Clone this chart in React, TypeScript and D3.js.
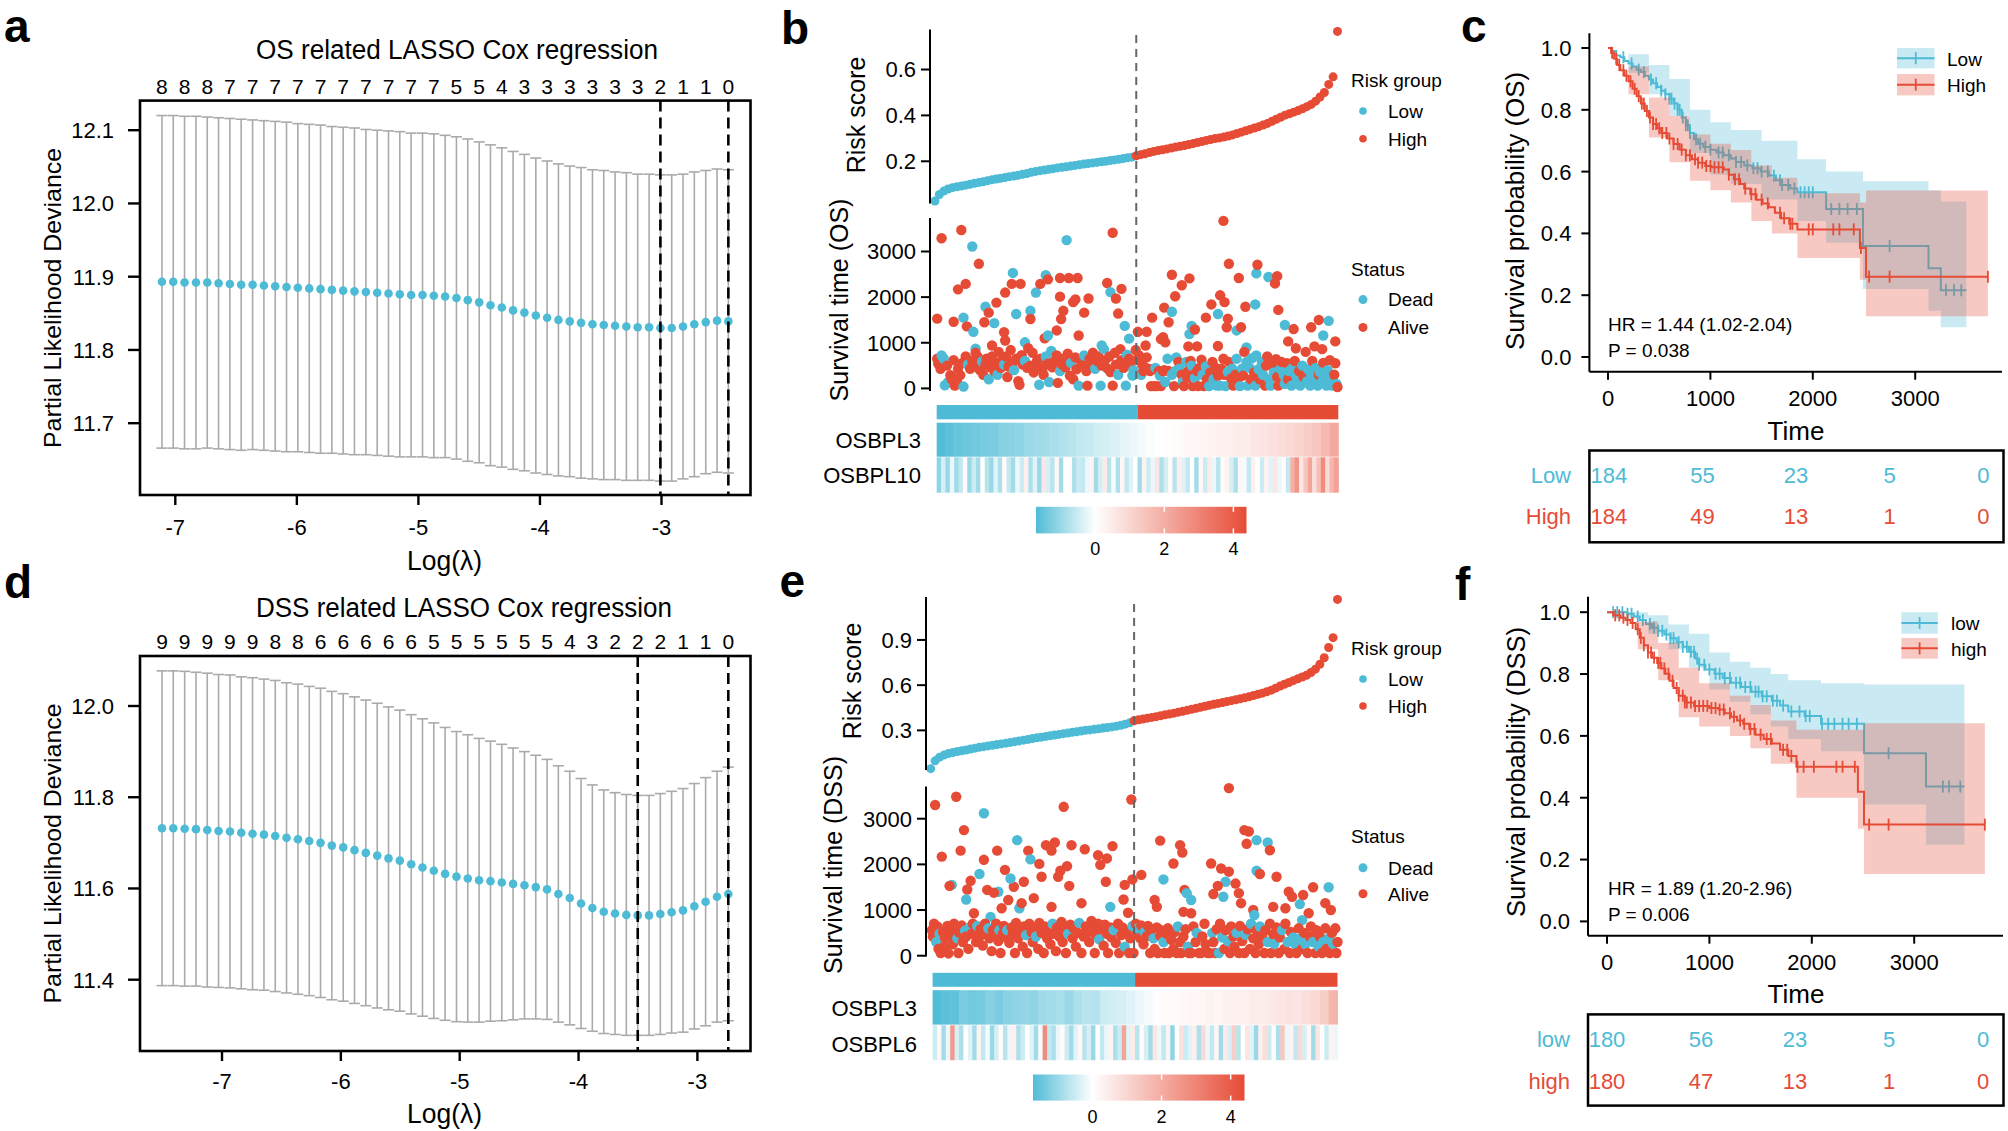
import React from 'react';
import * as d3 from 'd3';

const BLUE = '#4DBBD5';
const RED = '#E64B35';
const GREY = '#AAAAAA';
const SANS = "'Liberation Sans', Arial, Helvetica, sans-serif";
const NARROW = "'Liberation Sans Narrow', 'Arial Narrow', 'Liberation Sans', Arial, sans-serif";

// ---------- a: OS LASSO cross-validation ----------
const lambdaOS = [-7.110,-7.017,-6.924,-6.830,-6.737,-6.644,-6.551,-6.458,-6.364,-6.271,-6.178,-6.085,-5.992,-5.898,-5.805,-5.712,-5.619,-5.526,-5.432,-5.339,-5.246,-5.153,-5.060,-4.966,-4.873,-4.780,-4.687,-4.594,-4.500,-4.407,-4.314,-4.221,-4.128,-4.034,-3.941,-3.848,-3.755,-3.662,-3.568,-3.475,-3.382,-3.289,-3.196,-3.102,-3.009,-2.916,-2.823,-2.730,-2.636,-2.543,-2.450];
const cvmOS = [11.893,11.893,11.892,11.892,11.892,11.891,11.890,11.889,11.889,11.888,
  11.887,11.886,11.885,11.884,11.883,11.882,11.881,11.880,11.879,11.878,
  11.877,11.876,11.875,11.875,11.874,11.873,11.871,11.868,11.865,11.861,
  11.858,11.854,11.851,11.847,11.844,11.841,11.839,11.837,11.835,11.834,
  11.833,11.832,11.831,11.831,11.830,11.830,11.832,11.835,11.838,11.840,11.839];
const cvsdOS = [0.227,0.227,0.227,0.227,0.226,0.226,0.226,0.226,0.225,0.225,
  0.225,0.225,0.224,0.224,0.224,0.223,0.223,0.223,0.222,0.222,
  0.222,0.222,0.221,0.221,0.221,0.220,0.220,0.220,0.219,0.219,
  0.218,0.217,0.216,0.215,0.214,0.213,0.212,0.212,0.211,0.211,
  0.210,0.210,0.209,0.209,0.209,0.209,0.208,0.208,0.207,0.207,0.207];
const nzeroOS = [8,8,8,7,7,7,7,7,7,7,7,7,7,5,5,4,3,3,3,3,3,3,2,1,1,0];

// ---------- d: DSS LASSO cross-validation ----------
const lambdaDSS = [-7.505,-7.410,-7.314,-7.219,-7.124,-7.029,-6.933,-6.838,-6.743,-6.647,-6.552,-6.457,-6.361,-6.266,-6.171,-6.076,-5.980,-5.885,-5.790,-5.694,-5.599,-5.504,-5.408,-5.313,-5.218,-5.123,-5.027,-4.932,-4.837,-4.741,-4.646,-4.551,-4.455,-4.360,-4.265,-4.170,-4.074,-3.979,-3.884,-3.788,-3.693,-3.598,-3.502,-3.407,-3.312,-3.217,-3.121,-3.026,-2.931,-2.835,-2.740];
const cvmDSS = [11.732,11.732,11.731,11.730,11.728,11.726,11.725,11.722,11.720,11.718,
  11.715,11.711,11.708,11.704,11.700,11.694,11.690,11.684,11.678,11.672,
  11.666,11.661,11.653,11.646,11.639,11.632,11.626,11.622,11.618,11.616,
  11.613,11.610,11.607,11.603,11.598,11.588,11.579,11.567,11.557,11.549,
  11.545,11.542,11.541,11.541,11.544,11.548,11.552,11.561,11.571,11.582,11.588];
const cvsdDSS = [0.345,0.345,0.345,0.344,0.344,0.343,0.343,0.342,0.342,0.341,
  0.341,0.340,0.340,0.339,0.339,0.338,0.337,0.336,0.335,0.334,
  0.332,0.330,0.328,0.326,0.324,0.321,0.318,0.315,0.311,0.307,
  0.303,0.298,0.293,0.289,0.285,0.281,0.278,0.274,0.270,0.267,
  0.265,0.264,0.263,0.263,0.264,0.265,0.267,0.269,0.272,0.275,0.278];
const nzeroDSS = [9,9,9,9,9,8,8,6,6,6,6,6,5,5,5,5,5,5,4,3,2,2,2,1,1,0];

// ---------- b: OS risk score (sorted), survival, heatmap ----------
const riskOS = [.027,.055,.070,.079,.085,.089,.092,.096,.100,.104,
  .107,.111,.115,.119,.123,.126,.129,.133,.136,.139,
  .143,.147,.152,.156,.159,.162,.165,.168,.171,.174,
  .176,.179,.182,.185,.188,.190,.193,.195,.198,.200,
  .203,.206,.209,.212,.215,.218,.224,.229,.233,.238,
  .243,.247,.250,.254,.258,.262,.265,.269,.273,.277,
  .282,.286,.291,.295,.299,.302,.306,.310,.315,.321,
  .327,.333,.339,.345,.351,.358,.365,.374,.383,.392,
  .401,.407,.414,.421,.429,.438,.448,.462,.480,.500,
  .535,.568,.766];
// [patient rank, survival days, dead (1) / alive (0)]
const survOS = [
  [7,3290,0],[25,3470,0],[35,3110,1],[41,2730,0],[3,1530,0],[18,1460,0],[22,2170,0],[29,2290,0],[27,1550,1],[30,1360,0],[36,1240,1],[38,870,1],[47,1790,1],[50,1660,0],[46,1450,0],[55,1430,1],[57,1880,0],[65,2100,0],[72,2530,1],[71,2290,0],[79,2290,0],[75,1630,1],[88,1700,1],[88,1520,0],[93,2100,1],[97,2290,0],[102,2480,1],[104,2390,0],[115,2420,0],[123,2420,0],[131,2420,0],[121,3250,1],[115,2010,0],[127,1890,0],[129,1950,0],[118,1700,0],[116,1520,0],[137,1660,0],[141,1970,0],[112,1270,0],[101,1100,0],[104,1160,1],[83,1010,1],[64,1230,0],[65,1050,0],[53,940,0],[158,2310,0],[161,2110,1],[171,2180,0],[166,1970,0],[168,1640,0],[174,1370,1],[178,1090,1],[163,3410,0],[132,1160,0],[153,940,1],
  [186,1240,0],[194,1240,0],[199,1550,0],[193,940,0],[207,1080,0],[209,1120,0],[211,1010,0],[210,1770,0],[217,1680,1],[214,1450,0],[217,2490,0],[220,2020,0],[226,2260,0],[233,2410,0],[235,1370,1],[233,1190,1],[238,1290,0],[232,920,0],[240,920,0],[248,1550,0],[253,1840,0],[259,930,0],[261,2040,0],[264,3670,0],[265,1890,0],[269,2730,0],[259,1630,1],[267,1340,0],[268,1530,0],[278,2420,0],[284,1790,0],[276,1270,1],[280,1340,0],[285,900,1],[294,2520,1],[295,2710,0],[293,1840,1],[305,2440,1],[313,2460,0],[311,2300,0],[314,1720,0],[320,1390,1],[328,1300,0],[323,1030,0],[330,880,0],[344,1340,0],[351,1500,0],[360,1480,1],[355,1160,1],[347,920,0],[366,1030,0],[354,860,0],
  [3,650,0],[4,540,0],[6,430,0],[7,720,1],[9,650,1],[10,70,1],[12,500,0],[13,140,1],[15,290,0],[16,210,0],[18,620,0],[19,60,0],[21,150,0],[22,430,0],[24,290,0],[27,40,1],[26,560,0],[29,700,0],[31,520,1],[33,430,0],[35,600,0],[37,480,0],[38,780,0],[40,690,0],[42,400,0],[44,590,1],[45,300,0],[47,520,0],[48,650,0],[50,200,1],[51,470,0],[53,700,0],[55,380,0],[56,560,0],[58,300,1],[59,800,0],[61,450,0],[62,620,0],[64,520,1],[66,700,0],[67,250,0],[68,480,0],[70,840,0],[72,560,0],[73,400,1],[75,650,0],[77,160,0],[78,80,0],[80,730,0],[81,520,0],[83,600,1],[85,450,0],[86,880,0],[88,500,0],[90,780,0],[91,350,0],[93,520,0],[94,600,0],[96,80,1],[97,650,0],[99,430,0],[100,300,0],[102,700,1],[104,540,0],[105,140,1],[107,820,1],[108,460,0],[110,600,0],[112,720,0],[113,120,0],[115,380,1],[117,520,0],[118,650,0],[120,460,0],[122,760,0],[124,280,0],[125,560,1],[127,200,0],[129,680,0],[130,420,0],[132,60,1],[134,600,0],[135,520,0],[137,720,1],[139,380,0],[140,60,0],[142,650,0],[144,520,0],[145,780,0],[147,430,1],[149,600,0],[150,700,0],[152,60,1],[153,500,0],[155,860,1],[156,620,0],[158,440,0],[160,700,0],[161,360,0],[163,60,0],[165,780,0],[166,520,0],[168,300,1],[170,860,0],[171,620,0],[173,450,0],[175,60,1],[176,740,1],[178,650,0],[179,520,0],[181,280,1],[182,400,1],[184,840,0],
  [186,640,0],[187,720,0],[189,300,1],[190,520,0],[191,380,0],[193,450,0],[194,680,0],[195,430,0],[197,380,0],[198,50,0],[199,420,0],[201,50,0],[202,450,1],[203,50,0],[205,380,0],[206,280,1],[207,50,0],[209,380,0],[210,400,0],[211,140,1],[213,650,1],[214,380,0],[216,350,0],[217,300,1],[219,50,0],[220,380,1],[221,680,1],[223,580,0],[224,430,1],[226,300,0],[227,140,1],[228,50,0],[230,580,1],[231,230,0],[232,380,0],[234,600,0],[235,500,1],[236,50,0],[238,230,1],[240,380,0],[241,50,0],[242,450,0],[244,630,0],[245,300,1],[246,50,0],[248,480,1],[249,200,0],[251,50,1],[252,350,0],[254,580,0],[255,200,1],[257,450,0],[258,60,1],[259,280,0],[261,60,1],[262,430,0],[264,650,0],[265,300,0],[266,50,1],[268,360,1],[269,580,0],[271,220,0],[272,430,1],[273,60,0],[275,300,0],[276,650,1],[278,230,0],[279,50,1],[281,430,1],[282,280,0],[283,800,0],[285,580,1],[286,60,1],[288,450,1],[289,200,0],[290,660,1],[292,350,0],[293,60,1],[294,720,1],[296,420,1],[297,200,0],[299,580,1],[300,300,1],[302,60,0],[303,500,0],[304,700,0],[306,200,1],[307,60,1],[309,520,0],[310,350,1],[312,640,0],[313,250,0],[314,60,0],[316,430,1],[317,580,0],[319,300,1],[320,100,1],[322,550,0],[323,200,0],[324,380,1],[326,60,1],[327,450,1],[329,600,0],[330,280,1],[331,150,1],[333,380,0],[334,60,1],[336,500,1],[337,250,0],[339,800,0],[340,150,1],[341,420,1],[343,60,1],[344,300,1],[345,600,0],[347,200,1],[348,450,1],[350,60,1],[351,300,0],[352,350,1],[354,150,1],[355,560,0],[356,250,1],[358,60,1],[359,400,1],[361,620,0],[362,150,1],[363,60,1],[365,300,0],[366,550,0],[367,100,1],[368,30,0]
];
const osbpl3OS = [-1.7,-1.6,-1.5,-1.45,-1.4,-1.35,-1.3,-1.2,-1.15,-1.1,-1.0,-0.95,-0.9,-0.85,-0.75,-0.7,-0.6,-0.55,-0.45,-0.4,-0.35,-0.25,-0.2,-0.1,-0.05,0.0,0.05,0.1,0.15,0.2,0.25,0.3,0.35,0.4,0.45,0.5,0.6,0.65,0.75,0.85,0.95,1.05,1.2,1.4,1.7,2.1];
const osbpl10OS = [-1.1,-0.4,-1.0,-0.2,-0.9,-0.6,0.1,-1.0,-0.5,-0.9,0.0,-0.7,-1.0,-0.3,-0.8,0.1,-0.6,-0.9,-0.2,-0.5,0.4,-0.8,-0.3,-1.0,0.6,-0.4,-0.7,0.2,-0.9,0.0,0.1,-0.8,-0.5,-0.6,-0.2,0.3,-0.9,-0.4,0.5,-0.7,-0.1,-0.8,0.2,-0.6,-0.3,0.0,-0.9,0.3,-0.5,-0.2,0.6,-0.8,-0.4,0.1,-0.7,0.4,-0.3,-0.6,0.0,-0.9,0.2,-0.5,0.5,-0.2,-0.7,0.1,0.3,-0.4,-0.8,0.2,-0.1,-0.6,0.4,0.0,-0.5,0.3,-0.3,0.6,-0.2,0.1,-0.6,1.9,2.6,0.6,1.4,2.2,0.8,1.6,2.8,0.9,1.8,2.3];

// ---------- e: DSS risk score (sorted), survival, heatmap ----------
const riskDSS = [.046,.098,.122,.136,.146,.153,.159,.165,.170,.176,
  .182,.188,.192,.197,.201,.206,.210,.215,.220,.225,
  .230,.235,.240,.246,.251,.255,.260,.264,.269,.273,
  .278,.282,.287,.291,.296,.300,.303,.307,.311,.315,
  .319,.323,.328,.334,.341,.350,.364,.370,.375,.381,
  .386,.391,.397,.403,.408,.414,.421,.427,.433,.440,
  .446,.453,.460,.467,.473,.479,.485,.491,.497,.503,
  .510,.516,.523,.531,.539,.547,.556,.567,.580,.594,
  .606,.618,.630,.642,.654,.666,.684,.706,.738,.782,
  .850,.915,1.169];
const survDSS = [
  [5,3300,0],[24,3480,0],[49,3120,1],[31,2750,0],[11,2170,0],[28,2300,0],[49,2100,0],[61,2300,0],[79,2530,1],[89,2300,0],[91,2110,1],[99,2010,0],[105,2420,0],[110,2300,0],[113,2480,0],[121,3260,0],[128,2420,0],[140,2330,0],[152,2200,0],[154,1990,0],[160,2130,0],[165,2400,0],[182,3420,0],[118,1860,0],[124,1960,0],[116,1730,0],[101,1730,0],[85,1620,0],[76,1510,0],[73,1690,1],[68,1880,0],[45,1790,1],[37,1640,0],[34,1450,0],[20,1550,1],[18,1530,0],[33,1230,1],[40,930,0],[52,1440,0],[55,850,1],[62,1400,1],[58,1380,0],[65,1040,0],[71,1220,0],[81,1040,1],[83,1150,0],[94,1260,0],[110,1070,0],[126,1530,0],[137,1150,0],[159,1620,0],[163,1070,1],[175,1230,0],[176,1550,0],[179,940,0],[183,1670,0],[191,1770,0],
  [208,2520,0],[211,1670,1],[203,1220,0],[205,1070,0],[220,2020,0],[226,2420,0],[228,2260,0],[230,1440,0],[232,1370,1],[236,1220,1],[229,960,0],[236,930,0],[254,2020,0],[263,1910,0],[270,1840,0],[267,1620,1],[265,1290,1],[260,1530,0],[256,1350,0],[276,1580,0],[279,1370,0],[281,1150,0],[270,3670,0],[284,2750,0],[288,2720,0],[295,2530,1],[286,2450,0],[305,2480,1],[307,2310,0],[295,1860,1],[298,1790,0],[313,1730,0],[292,1000,0],[293,890,1],[310,1070,0],[324,1400,0],[327,1290,0],[334,1130,1],[337,1330,0],[321,1040,0],[346,1500,0],[360,1500,1],[357,1150,0],[362,1000,0],[342,930,0],[336,780,1],
  [2,560,0],[3,420,0],[4,700,0],[6,300,1],[7,640,0],[8,150,0],[9,480,1],[10,60,0],[12,520,0],[13,200,0],[14,380,0],[15,100,0],[16,650,0],[17,50,0],[19,450,0],[21,250,0],[22,700,0],[23,560,0],[25,380,1],[26,60,0],[27,500,0],[29,660,0],[30,300,0],[32,550,1],[33,420,0],[35,150,0],[36,620,1],[38,480,0],[39,700,0],[41,530,0],[42,300,0],[43,650,1],[45,410,0],[46,580,0],[48,220,0],[50,700,0],[51,480,0],[53,600,1],[54,380,0],[56,100,0],[57,560,0],[59,440,0],[60,700,0],[62,320,0],[63,560,1],[64,60,0],[66,480,0],[67,650,0],[69,400,0],[70,560,1],[72,280,0],[74,620,0],[75,470,0],[77,60,0],[78,720,0],[80,380,0],[82,540,0],[84,200,0],[85,640,0],[87,450,1],[88,60,0],[90,700,0],[92,520,0],[93,300,0],[95,600,0],[96,420,1],[98,150,0],[99,720,0],[101,500,0],[103,60,0],[104,640,0],[106,380,0],[107,560,0],[109,250,0],[111,700,1],[112,480,0],[114,100,0],[115,620,0],[117,420,0],[119,740,0],[120,300,0],[122,560,0],[123,60,0],[125,480,1],[127,680,0],[129,380,0],[130,600,0],[132,200,0],[134,500,0],[135,720,1],[137,60,0],[139,420,0],[141,640,0],[142,500,0],[144,300,0],[146,760,0],[147,560,0],[149,60,0],[150,460,0],[152,700,0],[153,360,1],[155,580,0],[157,220,0],[158,680,0],[160,480,0],[161,60,0],[163,620,0],[164,400,0],[166,560,1],[168,280,0],[170,700,0],[171,60,0],[173,450,0],[174,620,0],[176,200,1],[178,540,0],[180,60,0],[181,380,0],[183,650,1],[184,60,0],
  [186,700,0],[187,480,0],[188,600,1],[190,380,0],[191,660,0],[193,250,0],[194,520,1],[196,430,0],[197,650,0],[199,60,0],[200,560,0],[202,380,1],[203,150,0],[205,620,0],[206,60,0],[208,440,0],[209,560,0],[211,300,1],[212,60,0],[214,480,0],[215,600,0],[216,60,0],[218,350,0],[220,150,0],[221,520,0],[223,60,0],[224,640,1],[226,300,0],[227,60,0],[229,420,0],[231,580,0],[233,200,1],[234,60,0],[236,60,0],[238,640,0],[240,300,0],[241,500,1],[243,60,0],[245,60,0],[246,420,0],[248,700,0],[249,250,0],[251,60,0],[253,60,0],[255,500,1],[256,300,0],[258,60,0],[259,580,0],[261,60,1],[262,700,0],[264,400,1],[266,150,0],[267,560,0],[269,320,1],[271,60,0],[272,640,0],[274,420,0],[275,200,0],[277,500,1],[279,60,0],[280,650,0],[282,320,0],[284,60,0],[285,460,1],[287,580,0],[289,150,0],[290,700,1],[292,380,0],[294,60,0],[295,560,0],[297,250,0],[298,640,1],[300,430,0],[302,60,0],[303,560,0],[305,300,1],[307,700,0],[308,60,0],[310,470,0],[311,260,1],[313,620,0],[315,60,0],[316,400,0],[318,560,1],[320,150,0],[321,700,0],[323,300,1],[325,60,0],[326,520,0],[328,400,1],[330,250,1],[331,60,0],[333,600,0],[334,380,1],[336,150,0],[338,500,0],[339,250,1],[341,60,0],[343,420,0],[344,640,0],[346,300,1],[348,60,0],[349,560,0],[351,200,1],[352,420,0],[354,60,0],[355,300,1],[357,600,0],[358,150,0],[360,380,1],[361,60,0],[363,500,0],[364,260,1],[366,600,0],[367,60,0],[368,300,0]
];
const osbpl3DSS = [-1.7,-1.6,-1.55,-1.3,-1.4,-1.35,-1.2,-1.3,-1.15,-1.1,-1.05,-1.1,-0.95,-0.9,-0.85,-1.0,-0.8,-0.7,-0.75,-0.5,-0.45,-0.4,-0.3,-0.2,-0.1,0.05,0.1,0.1,0.15,0.2,0.2,0.3,0.25,0.35,0.4,0.4,0.5,0.45,0.55,0.6,0.7,0.65,0.8,0.95,1.2,1.8];
const osbpl6DSS = [-0.5,0.2,-0.9,-0.2,2.5,-0.4,-0.8,0.0,-0.3,-0.9,0.3,-0.6,-0.1,-1.0,-0.4,0.1,-0.7,-0.2,0.4,-0.8,-0.5,0.0,-0.3,-0.9,-0.1,2.8,-0.6,-0.8,-0.2,0.1,-0.5,-0.9,-0.3,0.2,-0.7,-0.4,-1.0,0.0,-0.6,-0.2,0.3,-0.8,-0.5,2.2,-0.3,0.5,-0.7,0.1,-0.4,-0.9,0.6,-0.2,-0.6,0.3,-1.1,0.0,0.7,-0.5,-0.3,0.4,-0.8,0.9,-0.2,-0.6,0.2,-0.9,0.5,-0.4,1.2,-0.7,0.0,0.6,-0.3,-1.0,0.4,0.8,-0.5,0.1,-0.8,1.4,-0.2,0.3,-0.6,0.9,-0.4,0.2,-0.9,0.6,0.0,-0.5,0.3,-0.2];

// ---------- c: OS Kaplan-Meier ----------
const kmOSLow = [[0,1],[40,.99],[80,.976],[120,.97],[160,.958],[200,.95],[240,.94],[280,.93],[320,.922],[360,.91],[400,.898],[440,.886],[480,.874],[520,.862],[560,.85],[600,.836],[640,.82],[680,.8],[720,.775],[760,.75],[800,.725],[840,.705],[880,.69],[930,.68],[1000,.671],[1060,.662],[1130,.653],[1200,.642],[1250,.631],[1330,.62],[1410,.611],[1490,.6],[1570,.587],[1640,.572],[1700,.557],[1780,.545],[1850,.533],[2130,.479],[2490,.359],[3130,.287],[3250,.216],[3500,.216]];
const ciOSLow = [[0,1,1],[200,.92,.98],[400,.85,.945],[600,.78,.9],[800,.66,.8],[1000,.59,.76],[1200,.56,.735],[1500,.51,.7],[1850,.44,.64],[2130,.37,.6],[2490,.22,.569],[3130,.15,.54],[3250,.096,.503],[3500,.096,.503]];
const kmOSHigh = [[0,1],[30,.985],[60,.965],[90,.945],[120,.928],[160,.91],[200,.892],[240,.868],[280,.844],[320,.82],[360,.796],[400,.775],[440,.754],[480,.74],[520,.725],[580,.707],[640,.689],[700,.671],[760,.653],[820,.64],[880,.629],[950,.618],[1010,.614],[1130,.607],[1180,.59],[1230,.575],[1290,.56],[1330,.545],[1390,.527],[1450,.509],[1510,.497],[1570,.485],[1630,.467],[1690,.449],[1770,.431],[1850,.413],[2460,.353],[2520,.26],[3710,.26]];
const ciOSHigh = [[0,1,1],[200,.85,.94],[400,.71,.84],[600,.63,.78],[800,.57,.72],[1000,.54,.69],[1200,.5,.67],[1400,.44,.62],[1600,.4,.58],[1850,.32,.53],[2460,.25,.5],[2520,.132,.539],[3710,.132,.539]];
const censorOSLow = [150,230,300,350,420,470,520,560,600,620,650,680,700,730,760,780,800,860,900,950,1000,1080,1120,1180,1250,1300,1360,1420,1460,1500,1560,1620,1680,1700,1760,1820,1880,1920,1960,2000,2180,2260,2340,2430,2750,3300,3380,3450];
const censorOSHigh = [40,80,110,150,180,220,260,300,330,350,380,410,440,470,500,530,570,600,640,680,720,760,800,850,880,920,960,1000,1040,1080,1120,1180,1240,1280,1340,1400,1440,1500,1560,1680,1720,1780,1800,1960,2000,2200,2260,2400,2470,2550,2750,3710];
const riskTableOSLow = [184,55,23,5,0];
const riskTableOSHigh = [184,49,13,1,0];

// ---------- f: DSS Kaplan-Meier ----------
const kmDSSLow = [[0,1],[200,.995],[260,.986],[320,.975],[380,.962],[440,.95],[500,.94],[560,.928],[620,.916],[680,.903],[740,.888],[800,.872],[860,.85],[900,.83],[960,.815],[1050,.801],[1130,.787],[1210,.772],[1310,.758],[1410,.743],[1510,.728],[1610,.714],[1690,.698],[1770,.679],[1930,.664],[2090,.639],[2510,.544],[3115,.436],[3490,.436]];
const ciDSSLow = [[0,1,1],[200,.98,1],[400,.93,.99],[600,.88,.96],[800,.82,.93],[1000,.75,.87],[1200,.71,.84],[1400,.67,.82],[1600,.63,.8],[1770,.59,.78],[2090,.55,.77],[2510,.378,.766],[3115,.248,.766],[3490,.248,.766]];
const kmDSSHigh = [[0,1],[60,.99],[130,.982],[180,.975],[230,.965],[280,.945],[320,.917],[360,.893],[400,.87],[440,.853],[490,.836],[530,.818],[570,.801],[610,.778],[650,.755],[700,.73],[760,.708],[850,.697],[1000,.69],[1090,.685],[1150,.673],[1210,.662],[1270,.65],[1330,.639],[1390,.622],[1450,.604],[1530,.59],[1610,.575],[1690,.555],[1770,.535],[1850,.5],[2450,.419],[2510,.313],[3690,.313]];
const ciDSSHigh = [[0,1,1],[300,.88,.97],[500,.78,.9],[700,.66,.82],[900,.63,.77],[1200,.6,.73],[1400,.56,.7],[1600,.51,.65],[1850,.4,.62],[2450,.3,.62],[2510,.153,.641],[3690,.153,.641]];
const censorDSSLow = [60,100,150,200,240,300,350,420,460,500,540,580,620,650,700,740,780,820,850,880,900,950,1000,1060,1100,1150,1200,1260,1300,1350,1400,1450,1480,1520,1560,1620,1660,1720,1800,1880,1940,1980,2100,2160,2220,2300,2360,2440,2750,3280,3340,3450];
const censorDSSHigh = [80,120,160,200,250,300,330,360,400,430,460,500,520,560,600,640,680,700,740,760,780,820,860,900,940,980,1020,1060,1100,1140,1200,1240,1300,1340,1400,1440,1500,1560,1600,1720,1760,1800,1860,1920,2020,2240,2300,2420,2560,2750,3690];
const riskTableDSSLow = [180,56,23,5,0];
const riskTableDSSHigh = [180,47,13,1,0];

const tableTimes = [0, 1000, 2000, 3000, 4000];
const kmXTicks = [0, 1000, 2000, 3000];
const kmYTicks = [0, 0.2, 0.4, 0.6, 0.8, 1.0];
const survTicks = [0, 1000, 2000, 3000];
const cbTicks = [0, 2, 4];

const heatColor = d3.scaleLinear<string>().domain([-1.75, 0, 4.4]).range([BLUE, '#ffffff', RED]).clamp(true);

function Letter({ x, y, t }: any) {
  return <text x={x} y={y} fontSize={46} fontWeight="bold" fontFamily={SANS}>{t}</text>;
}

function LassoPanel({ c, lambda, cvm, cvsd, nzero }: any) {
  const x = d3.scaleLinear().domain([-7, -3]).range(c.xRange);
  const y = d3.scaleLinear().domain(c.yDom).range(c.yRange);
  const [bx0, by0, bx1, by1] = c.box;
  const fmt = d3.format('.1f');
  return (
    <g>
      <Letter x={4} y={c.letterY} t={c.letter} />
      <text x={c.titleX} y={c.titleY} fontSize={27} textAnchor="middle" fontFamily={NARROW}
        textLength={c.titleLen} lengthAdjust="spacingAndGlyphs">{c.title}</text>
      {nzero.map((n: number, k: number) => (
        <text key={k} x={x(lambda[k * 2])} y={c.nzeroY} fontSize={21} textAnchor="middle" fontFamily={NARROW}>{n}</text>
      ))}
      {lambda.map((l: number, i: number) => {
        const xi = x(l), hi = y(cvm[i] + cvsd[i]), lo = y(cvm[i] - cvsd[i]);
        return (
          <g key={i} stroke={GREY} strokeWidth={1.6}>
            <line x1={xi} x2={xi} y1={hi} y2={lo} />
            <line x1={xi - 5.5} x2={xi + 5.5} y1={hi} y2={hi} />
            <line x1={xi - 5.5} x2={xi + 5.5} y1={lo} y2={lo} />
          </g>
        );
      })}
      {lambda.map((l: number, i: number) => <circle key={i} cx={x(l)} cy={y(cvm[i])} r={4.3} fill={BLUE} />)}
      {c.dash.map((i: number) => (
        <line key={i} x1={x(lambda[i])} x2={x(lambda[i])} y1={by0} y2={by1} stroke="#000" strokeWidth={2.6} strokeDasharray="11,6" />
      ))}
      <rect x={bx0} y={by0} width={bx1 - bx0} height={by1 - by0} fill="none" stroke="#000" strokeWidth={2.6} />
      {[-7, -6, -5, -4, -3].map(v => (
        <g key={v}>
          <line x1={x(v)} x2={x(v)} y1={by1} y2={by1 + 10} stroke="#000" strokeWidth={2.4} />
          <text x={x(v)} y={c.xLabY} fontSize={22} textAnchor="middle" fontFamily={NARROW}>{v}</text>
        </g>
      ))}
      {c.yTicks.map((v: number) => (
        <g key={v}>
          <line x1={bx0 - 12} x2={bx0} y1={y(v)} y2={y(v)} stroke="#000" strokeWidth={2.4} />
          <text x={bx0 - 26} y={y(v)} dy="0.36em" fontSize={22} textAnchor="end" fontFamily={NARROW}>{fmt(v)}</text>
        </g>
      ))}
      <text x={c.xTitleX} y={c.xTitleY} fontSize={27} textAnchor="middle" fontFamily={NARROW}
        textLength={75} lengthAdjust="spacingAndGlyphs">Log(λ)</text>
      <text transform={`translate(52,${c.yTitleY}) rotate(-90)`} dy="0.36em" fontSize={24} textAnchor="middle" fontFamily={SANS}
        textLength={300} lengthAdjust="spacingAndGlyphs">Partial Likelihood Deviance</text>
    </g>
  );
}

function RiskPanel({ c, risk, surv, row1, row2, names }: any) {
  const xr = d3.scaleLinear().domain([1, 368]).range(c.xr);
  const rankOf = d3.scaleLinear().domain([0, risk.length - 1]).range([1, 368]);
  const yR = d3.scaleLinear().domain(c.riskDom).range(c.riskRange);
  const yS = d3.scaleLinear().domain(c.survDom).range(c.survRange);
  const h = d3.scaleLinear().domain([0, 368]).range([c.heat.x0, c.heat.x1]);
  const cb = d3.scaleLinear().domain(c.cb.dom).range([c.cb.x0, c.cb.x1]);
  const fmt = d3.format('.1f');
  const gid = `cb-${c.letter}`;
  const rows = [row1, row2];
  const gradStops = [c.cb.dom[0], 0, 1, 2, 3, c.cb.dom[1]];
  return (
    <g fontFamily={SANS}>
      <Letter x={c.letterX} y={c.letterY} t={c.letter} />
      {/* risk score */}
      {risk.map((v: number, i: number) => {
        const r = rankOf(i);
        return <circle key={i} cx={xr(r)} cy={yR(v)} r={4.5} fill={r <= 184 ? BLUE : RED} />;
      })}
      <line x1={c.axisX} x2={c.axisX} y1={c.riskRange[0]} y2={c.riskRange[1]} stroke="#000" strokeWidth={2} />
      {c.riskTicks.map((v: number) => (
        <g key={v}>
          <line x1={c.axisX - 9} x2={c.axisX} y1={yR(v)} y2={yR(v)} stroke="#000" strokeWidth={2} />
          <text x={c.axisX - 14} y={yR(v)} dy="0.36em" fontSize={22} textAnchor="end">{fmt(v)}</text>
        </g>
      ))}
      <text transform={`translate(${c.riskLabel[0]},${c.riskLabel[1]}) rotate(-90)`} dy="0.36em" fontSize={25} textAnchor="middle">Risk score</text>
      {/* survival */}
      {surv.map((p: number[], i: number) => (
        <circle key={i} cx={xr(p[0])} cy={yS(p[1])} r={5.2} fill={p[2] ? BLUE : RED} />
      ))}
      <line x1={c.axisX} x2={c.axisX} y1={c.survRange[0]} y2={c.survRange[1]} stroke="#000" strokeWidth={2} />
      {survTicks.map(v => (
        <g key={v}>
          <line x1={c.axisX - 9} x2={c.axisX} y1={yS(v)} y2={yS(v)} stroke="#000" strokeWidth={2} />
          <text x={c.axisX - 14} y={yS(v)} dy="0.36em" fontSize={22} textAnchor="end">{v}</text>
        </g>
      ))}
      <text transform={`translate(${c.survLabel[0]},${c.survLabel[1]}) rotate(-90)`} dy="0.36em" fontSize={25} textAnchor="middle">{c.survTitle}</text>
      <line x1={xr(184.5)} x2={xr(184.5)} y1={c.dashY[0]} y2={c.dashY[1]} stroke="#666" strokeWidth={2} strokeDasharray="8,6" />
      {/* legends */}
      <text x={c.legX} y={c.leg.riskTitle} fontSize={19}>Risk group</text>
      <circle cx={c.legX + 12} cy={c.leg.low} r={3.8} fill={BLUE} />
      <text x={c.legX + 37} y={c.leg.low} dy="0.36em" fontSize={19}>Low</text>
      <circle cx={c.legX + 12} cy={c.leg.high} r={3.8} fill={RED} />
      <text x={c.legX + 37} y={c.leg.high} dy="0.36em" fontSize={19}>High</text>
      <text x={c.legX} y={c.leg.statusTitle} fontSize={19}>Status</text>
      <circle cx={c.legX + 12} cy={c.leg.dead} r={4.5} fill={BLUE} />
      <text x={c.legX + 37} y={c.leg.dead} dy="0.36em" fontSize={19}>Dead</text>
      <circle cx={c.legX + 12} cy={c.leg.alive} r={4.5} fill={RED} />
      <text x={c.legX + 37} y={c.leg.alive} dy="0.36em" fontSize={19}>Alive</text>
      {/* heatmap */}
      <rect x={h(0)} y={c.heat.bar[0]} width={h(184) - h(0)} height={c.heat.bar[1] - c.heat.bar[0]} fill={BLUE} />
      <rect x={h(184)} y={c.heat.bar[0]} width={h(368) - h(184)} height={c.heat.bar[1] - c.heat.bar[0]} fill={RED} />
      {rows.map((row: number[], k: number) => {
        const band = d3.scaleBand<number>().domain(d3.range(row.length)).range([c.heat.x0, c.heat.x1]);
        const [y0, y1] = c.heat.rows[k];
        return (
          <g key={k}>
            {row.map((v, i) => (
              <rect key={i} x={band(i)} y={y0} width={band.bandwidth() + 0.5} height={y1 - y0} fill={heatColor(v)} />
            ))}
            <text x={c.heat.labX} y={c.heat.labY[k]} dy="0.36em" fontSize={22} textAnchor="end">{names[k]}</text>
          </g>
        );
      })}
      <defs>
        <linearGradient id={gid} x1="0" x2="1" y1="0" y2="0">
          {gradStops.map((v, i) => (
            <stop key={i} offset={(v - c.cb.dom[0]) / (c.cb.dom[1] - c.cb.dom[0])} stopColor={heatColor(v)} />
          ))}
        </linearGradient>
      </defs>
      <rect x={c.cb.x0} y={c.cb.y0} width={c.cb.x1 - c.cb.x0} height={c.cb.y1 - c.cb.y0} fill={`url(#${gid})`} />
      {cbTicks.map(v => (
        <g key={v}>
          <line x1={cb(v)} x2={cb(v)} y1={c.cb.y0} y2={c.cb.y0 + 5} stroke="#fff" strokeWidth={1.5} />
          <line x1={cb(v)} x2={cb(v)} y1={c.cb.y1 - 5} y2={c.cb.y1} stroke="#fff" strokeWidth={1.5} />
          <text x={cb(v)} y={c.cb.labY} fontSize={18} textAnchor="middle">{v}</text>
        </g>
      ))}
    </g>
  );
}

function stepAt(curve: number[][], t: number) {
  const i = d3.bisector((d: number[]) => d[0]).right(curve, t) - 1;
  return curve[Math.max(0, i)][1];
}

function KMPanel({ c, low, high, ciLow, ciHigh, cenLow, cenHigh, tabLow, tabHigh }: any) {
  const x = d3.scaleLinear().domain([0, 1000]).range(c.xRange);
  const y = d3.scaleLinear().domain([0, 1]).range(c.yRange);
  const tx = d3.scaleLinear().domain([0, 4000]).range(c.tabX);
  const line = d3.line<number[]>().curve(d3.curveStepAfter).x(d => x(d[0])).y(d => y(d[1]));
  const area = d3.area<number[]>().curve(d3.curveStepAfter).x(d => x(d[0])).y0(d => y(d[1])).y1(d => y(d[2]));
  const cens = (times: number[], curve: number[][], col: string) =>
    times.map((t, i) => {
      const cx = x(t), cy = y(stepAt(curve, t));
      return <line key={i} x1={cx} x2={cx} y1={cy - 6} y2={cy + 6} stroke={col} strokeWidth={1.8} />;
    });
  const groups = [
    { name: c.names[0], col: BLUE, tab: tabLow, rect: c.legRects[0], ty: c.legTextY[0], rowY: c.rowY[0] },
    { name: c.names[1], col: RED, tab: tabHigh, rect: c.legRects[1], ty: c.legTextY[1], rowY: c.rowY[1] },
  ];
  const [tb0, tb1, tb2, tb3] = c.tableBox;
  return (
    <g fontFamily={SANS}>
      <Letter x={c.letterX} y={c.letterY} t={c.letter} />
      <path d={area(ciLow) as string} fill={BLUE} fillOpacity={0.3} />
      <path d={line(low) as string} fill="none" stroke={BLUE} strokeWidth={2} />
      {cens(cenLow, low, BLUE)}
      <path d={area(ciHigh) as string} fill={RED} fillOpacity={0.3} />
      <path d={line(high) as string} fill="none" stroke={RED} strokeWidth={2} />
      {cens(cenHigh, high, RED)}
      <line x1={c.axisX} x2={c.axisX} y1={c.axisTop} y2={c.xAxisY} stroke="#000" strokeWidth={2} />
      <line x1={c.axisX} x2={c.xAxisRight} y1={c.xAxisY} y2={c.xAxisY} stroke="#000" strokeWidth={2} />
      {kmYTicks.map(v => (
        <g key={v}>
          <line x1={c.axisX - 8} x2={c.axisX} y1={y(v)} y2={y(v)} stroke="#000" strokeWidth={2} />
          <text x={c.axisX - 18} y={y(v)} dy="0.36em" fontSize={22} textAnchor="end">{v.toFixed(1)}</text>
        </g>
      ))}
      {kmXTicks.map(v => (
        <g key={v}>
          <line x1={x(v)} x2={x(v)} y1={c.xAxisY} y2={c.xAxisY + 8} stroke="#000" strokeWidth={2} />
          <text x={x(v)} y={c.xLabY} fontSize={22} textAnchor="middle">{v}</text>
        </g>
      ))}
      <text x={c.timeX} y={c.timeY} fontSize={26} textAnchor="middle">Time</text>
      <text transform={`translate(${c.yTitle[0]},${c.yTitle[1]}) rotate(-90)`} dy="0.36em" fontSize={26} textAnchor="middle"
        textLength={c.yTitleLen} lengthAdjust="spacingAndGlyphs">{c.yTitleText}</text>
      <text x={c.statX} y={c.hrY} fontSize={19}>{c.hr}</text>
      <text x={c.statX} y={c.pY} fontSize={19}>{c.p}</text>
      {groups.map((g, k) => {
        const [rx, ry, rw, rh] = g.rect;
        return (
          <g key={k}>
            <rect x={rx} y={ry} width={rw} height={rh} fill={g.col} fillOpacity={0.3} />
            <line x1={rx} x2={rx + rw} y1={ry + rh / 2} y2={ry + rh / 2} stroke={g.col} strokeWidth={2} />
            <line x1={rx + rw / 2} x2={rx + rw / 2} y1={ry + rh / 2 - 6} y2={ry + rh / 2 + 6} stroke={g.col} strokeWidth={1.8} />
            <text x={c.legTextX} y={g.ty} dy="0.36em" fontSize={19}>{g.name}</text>
            <text x={c.rowLabX} y={g.rowY} dy="0.36em" fontSize={22} textAnchor="end" fill={g.col}>{g.name}</text>
            {g.tab.map((n: number, i: number) => (
              <text key={i} x={tx(tableTimes[i])} y={g.rowY} dy="0.36em" fontSize={22} textAnchor="middle" fill={g.col}>{n}</text>
            ))}
          </g>
        );
      })}
      <rect x={tb0} y={tb1} width={tb2 - tb0} height={tb3 - tb1} fill="none" stroke="#000" strokeWidth={2.5} />
    </g>
  );
}

const cfgA = {
  letter: 'a', letterY: 42, title: 'OS related LASSO Cox regression', titleX: 457, titleY: 59, titleLen: 402,
  nzeroY: 94, box: [140, 100.6, 750.5, 495], xRange: [175.3, 661.5], yDom: [11.7, 12.1], yRange: [423.2, 130.2],
  yTicks: [11.7, 11.8, 11.9, 12.0, 12.1], xLabY: 535, xTitleX: 444.5, xTitleY: 570, yTitleY: 298, dash: [44, 50],
};
const cfgD = {
  letter: 'd', letterY: 598, title: 'DSS related LASSO Cox regression', titleX: 464, titleY: 616.5, titleLen: 416,
  nzeroY: 649, box: [140, 656, 750.5, 1051], xRange: [222, 697.4], yDom: [11.4, 12.0], yRange: [979.7, 706],
  yTicks: [11.4, 11.6, 11.8, 12.0], xLabY: 1089, xTitleX: 444.5, xTitleY: 1123, yTitleY: 853.5, dash: [42, 50],
};
const cfgB = {
  letter: 'b', letterX: 781, letterY: 44, xr: [935, 1337.5], axisX: 930,
  riskDom: [0.016, 0.774], riskRange: [203.5, 29.6], riskTicks: [0.2, 0.4, 0.6],
  survDom: [-57, 3734], survRange: [391, 218], survTitle: 'Survival time (OS)',
  riskLabel: [856, 115], survLabel: [839, 300], dashY: [35, 394],
  legX: 1351, leg: { riskTitle: 87, low: 111, high: 138.7, statusTitle: 275.6, dead: 299.6, alive: 327.4 },
  heat: { x0: 936.7, x1: 1338.3, bar: [405, 419.3], rows: [[422.7, 456.7], [457.3, 492.7]], labX: 921, labY: [440, 475] },
  cb: { x0: 1036, x1: 1246.5, y0: 506.8, y1: 533.4, dom: [-1.72, 4.38], labY: 555 },
};
const cfgE = {
  letter: 'e', letterX: 779.6, letterY: 597, xr: [930.7, 1337.5], axisX: 926,
  riskDom: [0.037, 1.185], riskRange: [770, 597], riskTicks: [0.3, 0.6, 0.9],
  survDom: [-15, 3705], survRange: [956.4, 786.5], survTitle: 'Survival time (DSS)',
  riskLabel: [852, 681], survLabel: [833, 865], dashY: [604, 958],
  legX: 1351, leg: { riskTitle: 655, low: 679, high: 706, statusTitle: 843, dead: 867.7, alive: 893.8 },
  heat: { x0: 932.6, x1: 1337.5, bar: [972.8, 986.8], rows: [[990.2, 1024.6], [1025.3, 1060.2]], labX: 917, labY: [1008, 1044] },
  cb: { x0: 1033, x1: 1244.5, y0: 1074.5, y1: 1100.6, dom: [-1.72, 4.4], labY: 1122.8 },
};
const cfgC = {
  letter: 'c', letterX: 1461, letterY: 42, xRange: [1608, 1710.4], yRange: [357, 48],
  axisX: 1589.4, axisTop: 33.3, xAxisY: 371.7, xAxisRight: 2002, xLabY: 405.5, timeX: 1796, timeY: 440,
  yTitle: [1515, 211], yTitleLen: 278, yTitleText: 'Survival probability (OS)',
  statX: 1608, hrY: 330.5, pY: 356.5, hr: 'HR = 1.44 (1.02-2.04)', p: 'P = 0.038',
  names: ['Low', 'High'], legRects: [[1897, 48, 37.5, 20.4], [1897, 74, 37.5, 21.4]], legTextX: 1947, legTextY: [59, 85],
  tableBox: [1589.4, 450.5, 2003.5, 542.3], rowY: [475.3, 516], tabX: [1608.8, 1983.3], rowLabX: 1571,
};
const cfgF = {
  letter: 'f', letterX: 1455, letterY: 600, xRange: [1607, 1709.4], yRange: [921.4, 612.2],
  axisX: 1588, axisTop: 596.8, xAxisY: 935.7, xAxisRight: 2003, xLabY: 970, timeX: 1796, timeY: 1003,
  yTitle: [1516, 772], yTitleLen: 290, yTitleText: 'Survival probability (DSS)',
  statX: 1608, hrY: 895, pY: 921, hr: 'HR = 1.89 (1.20-2.96)', p: 'P = 0.006',
  names: ['low', 'high'], legRects: [[1901.4, 612.2, 36.4, 21.5], [1901.4, 638, 36.4, 20.7]], legTextX: 1951, legTextY: [623, 648.7],
  tableBox: [1588, 1014.4, 2003.5, 1105.6], rowY: [1038.7, 1081], tabX: [1607, 1983.2], rowLabX: 1570,
};

export default function App() {
  return (
    <svg width={2008} height={1131} viewBox="0 0 2008 1131"
      style={{ position: 'absolute', left: 0, top: 0, background: '#fff', display: 'block' }}>
      <rect x={0} y={0} width={2008} height={1131} fill="#fff" />
      <LassoPanel c={cfgA} lambda={lambdaOS} cvm={cvmOS} cvsd={cvsdOS} nzero={nzeroOS} />
      <LassoPanel c={cfgD} lambda={lambdaDSS} cvm={cvmDSS} cvsd={cvsdDSS} nzero={nzeroDSS} />
      <RiskPanel c={cfgB} risk={riskOS} surv={survOS} row1={osbpl3OS} row2={osbpl10OS} names={['OSBPL3', 'OSBPL10']} />
      <RiskPanel c={cfgE} risk={riskDSS} surv={survDSS} row1={osbpl3DSS} row2={osbpl6DSS} names={['OSBPL3', 'OSBPL6']} />
      <KMPanel c={cfgC} low={kmOSLow} high={kmOSHigh} ciLow={ciOSLow} ciHigh={ciOSHigh}
        cenLow={censorOSLow} cenHigh={censorOSHigh} tabLow={riskTableOSLow} tabHigh={riskTableOSHigh} />
      <KMPanel c={cfgF} low={kmDSSLow} high={kmDSSHigh} ciLow={ciDSSLow} ciHigh={ciDSSHigh}
        cenLow={censorDSSLow} cenHigh={censorDSSHigh} tabLow={riskTableDSSLow} tabHigh={riskTableDSSHigh} />
    </svg>
  );
}
